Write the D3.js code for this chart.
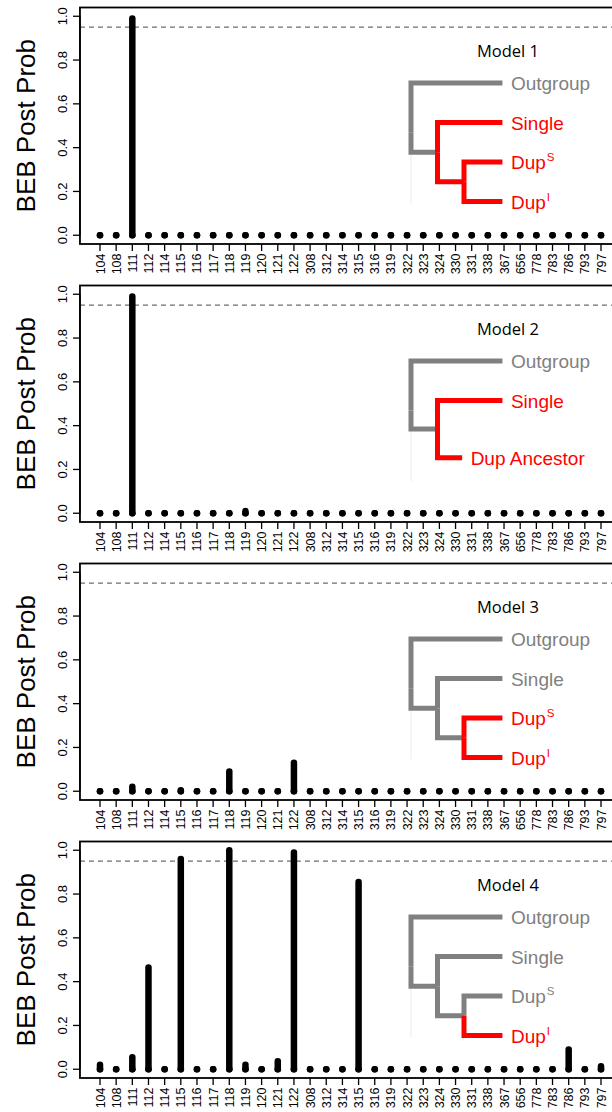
<!DOCTYPE html>
<html>
<head>
<meta charset="utf-8">
<script src="https://cdn.jsdelivr.net/npm/d3@7"></script>
<style>
  html, body { margin: 0; padding: 0; background: #fff; }
  svg { display: block; }
</style>
</head>
<body>
<div id="chart"></div>
<script>
// ---------------- data ----------------
const categories = ["104","108","111","112","114","115","116","117","118","119","120","121","122",
  "308","312","314","315","316","319","322","323","324","330","331","338","367","656","778","783","786","793","797"];

const model1 = [0,0,0.99,0,0,0,0,0,0,0,0,0,0, 0,0,0,0,0,0, 0,0,0,0,0,0, 0,0,0,0,0,0,0];
const model2 = [0,0,0.99,0,0,0,0,0,0,0.01,0,0,0, 0,0,0,0,0,0, 0,0,0,0,0,0, 0,0,0,0,0,0,0];
const model3 = [0,0,0.02,0,0,0.004,0,0,0.09,0,0,0,0.13, 0,0,0,0,0,0, 0,0,0,0,0,0, 0,0,0,0,0,0,0];
const model4 = [0.02,0,0.055,0.465,0,0.96,0,0,1.0,0.02,0,0.037,0.99, 0,0,0,0.855,0,0, 0,0,0,0,0,0, 0,0,0,0,0.09,0,0.014];

const modelNames = ["Model 1","Model 2","Model 3","Model 4"];
const seriesList = [model1, model2, model3, model4];
const yTicks = [0, 0.2, 0.4, 0.6, 0.8, 1.0];
const yTickLabels = ["0.0","0.2","0.4","0.6","0.8","1.0"];
const threshold = 0.95;
const yTitle = "BEB Post Prob";

// tree insets: tips [label, row, depth, superscript, colour]
// branches: [parentDepth, parentRow, childDepth, childRow, colour]
const GRAY = "#808080", RED = "#ff0000";
const trees = [
  { tips: [["Outgroup",0,3.45,"",GRAY],["Single",1,3.45,"",RED],["Dup",2,3.45,"S",RED],["Dup",3,3.45,"I",RED]],
    branches: [[0,1.2625,3.45,0,GRAY],[0,1.2625,1,1.75,GRAY],[1,1.75,3.45,1,RED],[1,1.75,2,2.5,RED],[2,2.5,3.45,2,RED],[2,2.5,3.45,3,RED]] },
  { tips: [["Outgroup",0,3.45,"",GRAY],["Single",1,3.45,"",RED],["Dup Ancestor",2.45,1.93,"",RED]],
    branches: [[0,1.25,3.45,0,GRAY],[0,1.25,1,1.72,GRAY],[1,1.72,3.45,1,RED],[1,1.72,1.93,2.45,RED]] },
  { tips: [["Outgroup",0,3.45,"",GRAY],["Single",1,3.45,"",GRAY],["Dup",2,3.45,"S",RED],["Dup",3,3.45,"I",RED]],
    branches: [[0,1.2625,3.45,0,GRAY],[0,1.2625,1,1.75,GRAY],[1,1.75,3.45,1,GRAY],[1,1.75,2,2.5,GRAY],[2,2.5,3.45,2,RED],[2,2.5,3.45,3,RED]] },
  { tips: [["Outgroup",0,3.45,"",GRAY],["Single",1,3.45,"",GRAY],["Dup",2,3.45,"S",GRAY],["Dup",3,3.45,"I",RED]],
    branches: [[0,1.2625,3.45,0,GRAY],[0,1.2625,1,1.75,GRAY],[1,1.75,3.45,1,GRAY],[1,1.75,2,2.5,GRAY],[2,2.5,3.45,2,GRAY],[2,2.5,3.45,3,RED]] }
];

// ---------------- layout ----------------
const W = 612, H = 1112, panelH = 278;
const svg = d3.select("#chart").append("svg").attr("width", W).attr("height", H);

const x = d3.scalePoint().domain(categories).range([100, 601]);
const step = x.step();
const boxLeft = 100 - 1.24 * step, boxRight = 601 + 1.24 * step;
const y = d3.scaleLinear().domain([-0.04, 1.04]).range([244, 7.5]);

const tx = d3.scaleLinear().domain([0, 1]).range([411, 437.5]);
const ty = d3.scaleLinear().domain([0, 1]).range([83, 122.5]);

const sans = "'Liberation Sans', Arial, sans-serif";

seriesList.forEach((vals, k) => {
  const g = svg.append("g").attr("transform", `translate(0,${k * panelH})`);

  // threshold dashed line
  g.append("line")
    .attr("x1", boxLeft).attr("x2", boxRight)
    .attr("y1", y(threshold)).attr("y2", y(threshold))
    .attr("stroke", "#6e6e6e").attr("stroke-width", 1.2)
    .attr("stroke-dasharray", "5,4");

  // bars (type = "h") with round ends
  g.selectAll("line.bar").data(vals).enter().append("line")
    .attr("class", "bar")
    .attr("x1", (d, i) => x(categories[i])).attr("x2", (d, i) => x(categories[i]))
    .attr("y1", y(0)).attr("y2", d => y(d))
    .attr("stroke", "#000").attr("stroke-width", 6.5).attr("stroke-linecap", "round");
  g.selectAll("circle.pt").data(vals).enter().append("circle")
    .attr("class", "pt")
    .attr("cx", (d, i) => x(categories[i])).attr("cy", y(0)).attr("r", 3.3)
    .attr("fill", "#000");

  // box
  g.append("rect")
    .attr("x", boxLeft).attr("y", y(1.04))
    .attr("width", boxRight - boxLeft).attr("height", y(-0.04) - y(1.04))
    .attr("fill", "none").attr("stroke", "#000").attr("stroke-width", 1.8);

  // y axis
  yTicks.forEach((t, i) => {
    g.append("line").attr("x1", boxLeft - 7).attr("x2", boxLeft)
      .attr("y1", y(t)).attr("y2", y(t)).attr("stroke", "#000").attr("stroke-width", 1.3);
    g.append("text")
      .attr("transform", `translate(66.8,${y(t)}) rotate(-90)`)
      .attr("text-anchor", "middle").attr("font-family", sans).attr("font-size", 13)
      .text(yTickLabels[i]);
  });
  g.append("line").attr("x1", boxLeft).attr("x2", boxLeft)
    .attr("y1", y(0)).attr("y2", y(1)).attr("stroke", "#000").attr("stroke-width", 1.3);

  // x axis
  categories.forEach(c => {
    g.append("line").attr("x1", x(c)).attr("x2", x(c))
      .attr("y1", y(-0.04)).attr("y2", y(-0.04) + 7).attr("stroke", "#000").attr("stroke-width", 1.3);
    g.append("text")
      .attr("transform", `translate(${x(c) + 4.5},${y(-0.04) + 9.5}) rotate(-90)`)
      .attr("text-anchor", "end").attr("font-family", sans).attr("font-size", 12.5)
      .text(c);
  });

  // y title
  g.append("text")
    .attr("transform", `translate(35,${(y(0) + y(1)) / 2}) rotate(-90)`)
    .attr("text-anchor", "middle").attr("font-family", sans).attr("font-size", 26)
    .text(yTitle);

  // model title
  g.append("text")
    .attr("x", 508).attr("y", 56.5)
    .attr("text-anchor", "middle").attr("font-family", "'Open Sans', sans-serif").attr("font-size", 16.5)
    .attr("fill", "#000")
    .text(modelNames[k]);

  // tree inset
  const tree = trees[k];
  g.append("line").attr("x1", tx(0)).attr("x2", tx(0))
    .attr("y1", ty(1.75)).attr("y2", ty(3.05)).attr("stroke", "#ececec").attr("stroke-width", 1);
  const ordered = tree.branches.filter(b => b[4] === GRAY).concat(tree.branches.filter(b => b[4] !== GRAY));
  ordered.forEach(b => {
    g.append("path")
      .attr("d", `M${tx(b[0])},${ty(b[1])}V${ty(b[3])}H${tx(b[2])}`)
      .attr("fill", "none").attr("stroke", b[4]).attr("stroke-width", 5)
      .attr("stroke-linejoin", "miter").attr("stroke-linecap", "butt");
  });
  tree.tips.forEach(t => {
    const tt = g.append("text")
      .attr("x", tx(t[2]) + 8.5).attr("y", ty(t[1]) + 7)
      .attr("font-family", sans).attr("font-size", 19).attr("fill", t[4])
      .text(t[0]);
    if (t[3]) {
      tt.append("tspan").attr("font-size", 11.5).attr("dy", -8).attr("dx", 1).text(t[3]);
    }
  });
});
</script>
</body>
</html>
